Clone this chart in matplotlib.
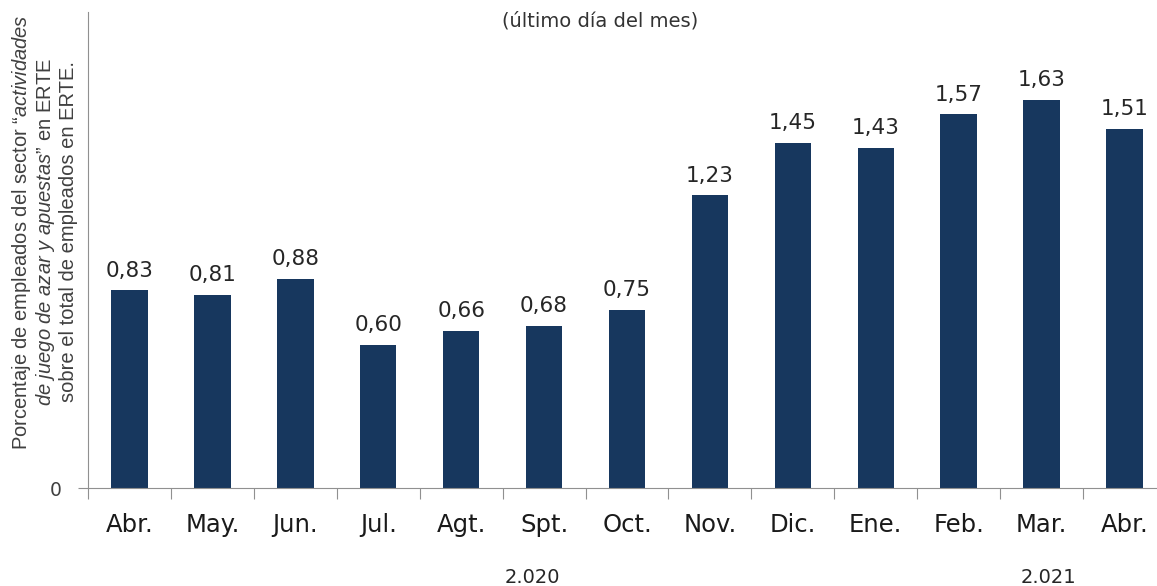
import matplotlib.pyplot as plt
import numpy as np

months = ["Abr.", "May.", "Jun.", "Jul.", "Agt.", "Spt.", "Oct.",
          "Nov.", "Dic.", "Ene.", "Feb.", "Mar.", "Abr."]
values = [0.83, 0.81, 0.88, 0.60, 0.66, 0.68, 0.75,
          1.23, 1.45, 1.43, 1.57, 1.63, 1.51]
years = ["2.020", "2.021"]
year_pos = [4.86, 11.08]

plt.rcParams["mathtext.fontset"] = "custom"
plt.rcParams["mathtext.rm"] = "Liberation Sans"
plt.rcParams["mathtext.it"] = "Liberation Sans:italic"

fig = plt.figure(figsize=(11.57, 5.86), dpi=100)
ax = fig.add_axes([88 / 1157, (586 - 488) / 586, (1166 - 88) / 1157, 476 / 586])

x = np.arange(len(months))
ax.bar(x, values, width=0.44, color="#17375E")
for xi, v in zip(x, values):
    ax.annotate(f"{v:.2f}".replace(".", ","), (xi, v), xytext=(0, 7),
                textcoords="offset points", ha="center", va="bottom",
                fontsize=15.5, color="#262626", family="DejaVu Sans")

ax.set_xlim(-0.5, len(months) - 0.5)
ax.set_ylim(0, 2.0)
ax.set_yticks([0])
ax.set_yticklabels(["0"], fontsize=13.5, color="#404040")
ax.set_xticks(np.arange(len(months) + 1) - 0.5)
ax.set_xticklabels([])
ax.set_xticks(x, minor=True)
ax.set_xticklabels(months, minor=True, fontsize=17.5, color="#1a1a1a", family="DejaVu Sans")
ax.tick_params(axis="x", which="major", length=8, color="#909090", direction="out")
ax.tick_params(axis="x", which="minor", length=0, pad=18)
ax.tick_params(axis="y", length=7, color="#909090", pad=12)

for s in ["top", "right"]:
    ax.spines[s].set_visible(False)
ax.spines["left"].set_color("#909090")
ax.spines["bottom"].set_color("#909090")

for yl, xp in zip(years, year_pos):
    ax.text(xp, -0.375, yl, ha="center", va="center", fontsize=14,
            color="#262626", family="DejaVu Sans")

fig.text(600 / 1157, 1 - 21 / 586, "(último día del mes)", ha="center", va="center",
         fontsize=14, color="#333333", family="DejaVu Sans")

lab_kw = dict(rotation=90, ha="center", va="center", fontsize=14.5,
              color="#404040", family="Liberation Sans")
fig.text(22 / 1157, 1 - 232 / 586,
         r"Porcentaje de empleados del sector “$\mathit{actividades}$", **lab_kw)
fig.text(46 / 1157, 1 - 232 / 586,
         r"$\mathit{de\ juego\ de\ azar\ y\ apuestas}$” en ERTE", **lab_kw)
fig.text(69 / 1157, 1 - 232 / 586,
         "sobre el total de empleados en ERTE.", **lab_kw)

fig.savefig("out.png", dpi=100)
